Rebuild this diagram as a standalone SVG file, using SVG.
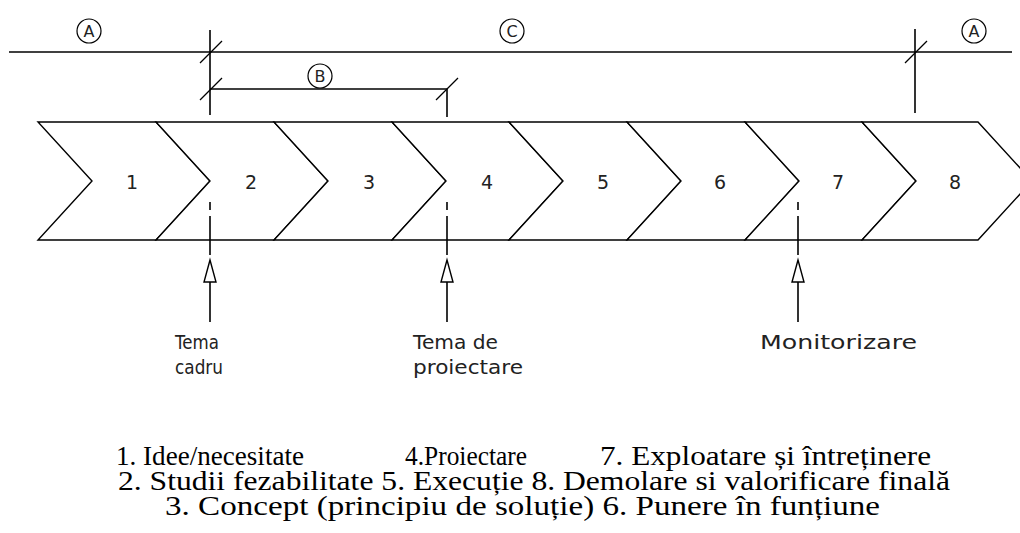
<svg xmlns="http://www.w3.org/2000/svg" width="1020" height="533" viewBox="0 0 1020 533">
<style>
.ln{stroke:#000;stroke-width:1.6;fill:none}
.tk{stroke:#000;stroke-width:1.3;fill:none}
.ch{stroke:#000;stroke-width:1.4;fill:#fff;stroke-linejoin:miter}
.tri{stroke:#000;stroke-width:1.4;fill:#fff}
.cir{stroke:#000;stroke-width:1.2;fill:#fff}
.cad{font-family:"DejaVu Sans","Liberation Sans",sans-serif;fill:#222}
.num{font-size:19px;text-anchor:middle}
.lbl{font-size:20px}
.ltr{font-size:16px;text-anchor:middle}
.leg{font-family:"Liberation Serif","Times New Roman",serif;font-size:28px;fill:#000}
</style>
<rect width="1020" height="533" fill="#fff"/>
<g id="dimensions">
<line class="ln" x1="9" y1="52" x2="1012" y2="52"/>
<line class="ln" x1="210" y1="30" x2="210" y2="115"/>
<line class="tk" x1="200" y1="63" x2="222" y2="41"/>
<line class="ln" x1="210" y1="89" x2="447" y2="89"/>
<line class="tk" x1="200" y1="100" x2="222" y2="78"/>
<line class="ln" x1="447" y1="89" x2="447" y2="117"/>
<line class="tk" x1="436" y1="100" x2="458" y2="78"/>
<line class="ln" x1="915" y1="29" x2="915" y2="113"/>
<line class="tk" x1="905" y1="63" x2="927" y2="41"/>
</g>
<g id="label-A-left"><circle class="cir" cx="89" cy="31" r="12"/><text class="cad ltr" x="89" y="37">A</text></g>
<g id="label-C"><circle class="cir" cx="512" cy="31" r="12"/><text class="cad ltr" x="512" y="37">C</text></g>
<g id="label-A-right"><circle class="cir" cx="974" cy="31" r="12"/><text class="cad ltr" x="974" y="37">A</text></g>
<g id="label-B"><circle class="cir" cx="320" cy="76" r="12"/><text class="cad ltr" x="320" y="82">B</text></g>
<g id="phase-1"><polygon class="ch" points="38,122 156,122 210,181 156,240 38,240 92,181"/><text class="cad num" x="132" y="189">1</text></g>
<g id="phase-2"><polygon class="ch" points="156,122 274,122 328,181 274,240 156,240 210,181"/><text class="cad num" x="251" y="189">2</text></g>
<g id="phase-3"><polygon class="ch" points="274,122 392,122 446,181 392,240 274,240 328,181"/><text class="cad num" x="369" y="189">3</text></g>
<g id="phase-4"><polygon class="ch" points="392,122 509,122 563,181 509,240 392,240 446,181"/><text class="cad num" x="487" y="189">4</text></g>
<g id="phase-5"><polygon class="ch" points="509,122 627,122 681,181 627,240 509,240 563,181"/><text class="cad num" x="603" y="189">5</text></g>
<g id="phase-6"><polygon class="ch" points="627,122 745,122 799,181 745,240 627,240 681,181"/><text class="cad num" x="720" y="189">6</text></g>
<g id="phase-7"><polygon class="ch" points="745,122 862,122 916,181 862,240 745,240 799,181"/><text class="cad num" x="838" y="189">7</text></g>
<g id="phase-8"><polygon class="ch" points="862,122 978,122 1032,181 978,240 862,240 916,181"/><text class="cad num" x="955" y="189">8</text></g>
<g id="connectors">
<line class="ln" x1="210" y1="202" x2="210" y2="210"/>
<line class="ln" x1="210" y1="216" x2="210" y2="255"/>
<path class="tri" d="M210,260 L216,282 L204,282 Z"/>
<line class="ln" x1="210" y1="282" x2="210" y2="322"/>
<line class="ln" x1="447" y1="202" x2="447" y2="210"/>
<line class="ln" x1="447" y1="216" x2="447" y2="255"/>
<path class="tri" d="M447,260 L453,282 L441,282 Z"/>
<line class="ln" x1="447" y1="282" x2="447" y2="322"/>
<line class="ln" x1="798" y1="202" x2="798" y2="210"/>
<line class="ln" x1="798" y1="216" x2="798" y2="255"/>
<path class="tri" d="M798,260 L804,282 L792,282 Z"/>
<line class="ln" x1="798" y1="282" x2="798" y2="322"/>
</g>
<g id="input-tema-cadru"><text class="cad lbl" x="175" y="349" textLength="44" lengthAdjust="spacingAndGlyphs">Tema</text><text class="cad lbl" x="175" y="374" textLength="48" lengthAdjust="spacingAndGlyphs">cadru</text></g>
<g id="input-tema-proiectare"><text class="cad lbl" x="413" y="349" textLength="85" lengthAdjust="spacingAndGlyphs">Tema de</text><text class="cad lbl" x="413" y="374" textLength="110" lengthAdjust="spacingAndGlyphs">proiectare</text></g>
<g id="input-monitorizare"><text class="cad lbl" x="760" y="349" textLength="157" lengthAdjust="spacingAndGlyphs">Monitorizare</text></g>
<g id="legend">
<text class="leg" x="116" y="465" textLength="188" lengthAdjust="spacingAndGlyphs">1. Idee/necesitate</text>
<text class="leg" x="405" y="465" textLength="122" lengthAdjust="spacingAndGlyphs">4.Proiectare</text>
<text class="leg" x="600" y="465" textLength="331" lengthAdjust="spacingAndGlyphs">7. Exploatare și întreținere</text>
<text class="leg" x="118" y="490" textLength="832" lengthAdjust="spacingAndGlyphs">2. Studii fezabilitate 5. Execuție 8. Demolare si valorificare finală</text>
<text class="leg" x="165" y="515" textLength="715" lengthAdjust="spacingAndGlyphs">3. Concept (principiu de soluție) 6. Punere în funțiune</text>
</g>
</svg>
